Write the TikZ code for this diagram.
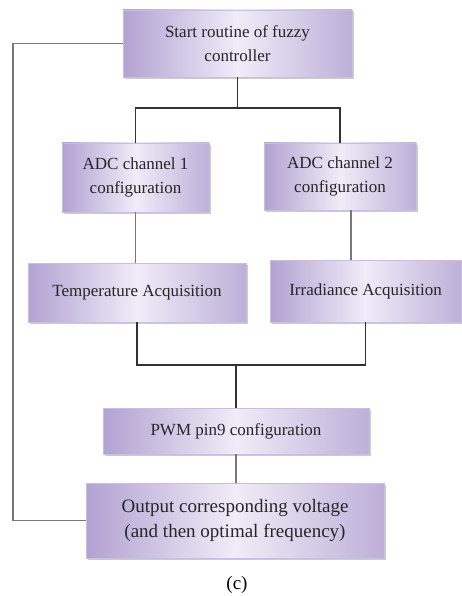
\documentclass[tikz,border=0pt]{standalone}
\usepackage{fontspec}
\setmainfont{Liberation Serif}
\usetikzlibrary{positioning,shadows}
\definecolor{boxdark}{RGB}{178,162,210}
\definecolor{boxlight}{RGB}{240,236,248}
\definecolor{wiredark}{RGB}{50,50,50}
\definecolor{wiregray}{RGB}{120,120,120}

\begin{document}
\begin{tikzpicture}[x=1pt,y=-1pt,
 box/.style={draw=boxdark!70!white,line width=0.6pt,left color=boxdark,right color=boxdark!85,middle color=boxlight,
  drop shadow={shadow xshift=1.5pt,shadow yshift=-2pt,fill=black!40},
  align=center,inner sep=0pt,text=black!85,font=\fontsize{17}{24}\selectfont},
 wire/.style={wiredark,line width=1.7pt},
 fback/.style={wiregray,line width=1.6pt}]
\useasboundingbox (0,0) rectangle (461,596);
\node[box,minimum width=229pt,minimum height=67pt] (start) at (237.5,43.5) {Start routine of fuzzy\\controller};
\node[box,minimum width=147pt,minimum height=69pt] (adc1) at (135.5,177.5) {ADC channel 1\\configuration};
\node[box,minimum width=152pt,minimum height=67pt] (adc2) at (340,176.5) {ADC channel 2\\configuration};
\node[box,minimum width=218pt,minimum height=59pt] (temp) at (137,292.5) {Temperature Acquisition};
\node[box,minimum width=191pt,minimum height=62pt] (irr) at (365.5,291) {Irradiance Acquisition};
\node[box,minimum width=266pt,minimum height=46pt] (pwm) at (236,431) {PWM pin9 configuration};
\node[box,minimum width=298pt,minimum height=75pt,font=\fontsize{19}{25}\selectfont] (out) at (235,520.5) {Output corresponding voltage\\(and then optimal frequency)};
\node[font=\fontsize{19}{23}\selectfont] (cap) at (237,585) {(c)};
% split to both ADC channels
\draw[wire] (start.south) -- ++(0,31) coordinate (split);
\draw[wire] (adc1.north) |- (split) -| (adc2.north);
\draw[fback] (adc1.south) -- (adc1.south |- temp.north);
\draw[fback] ([xshift=11pt]adc2.south) -- ([xshift=11pt]adc2.south |- irr.north);
% join into PWM
\coordinate (join) at (236,365);
\draw[wire] (temp.south) |- (join) -| (irr.south);
\draw[wire] (join) -- (pwm.north);
\draw[fback] (pwm.south) -- (pwm.south |- out.north);
% loop back
\draw[fback] (out.west) -- ++(-73,0) |- (start.west);
\end{tikzpicture}
\end{document}
